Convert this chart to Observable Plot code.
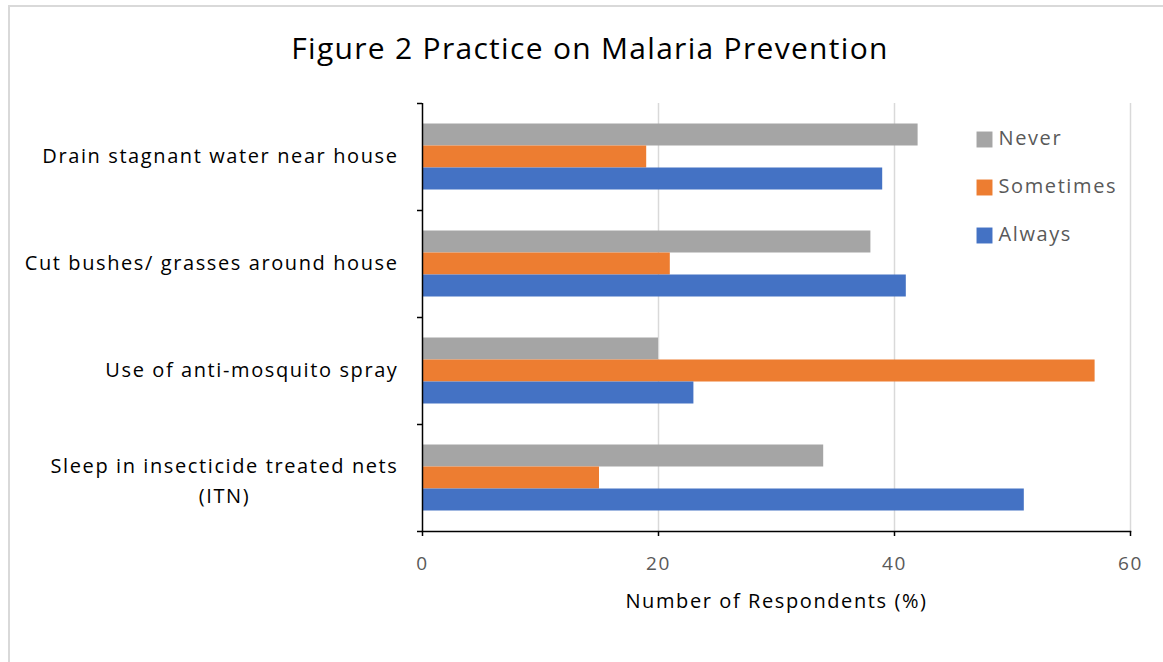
<!DOCTYPE html>
<html>
<head>
<meta charset="utf-8">
<script src="https://cdn.jsdelivr.net/npm/d3@7"></script>
<script src="https://cdn.jsdelivr.net/npm/@observablehq/plot@0.6"></script>
<style>
  html, body { margin: 0; padding: 0; background: #fff; }
  #wrap { position: relative; width: 1163px; height: 662px; overflow: hidden; font-family: "Open Sans", sans-serif; }
  #border { position: absolute; left: 8px; top: 5px; width: 1200px; height: 700px; border-left: 2px solid #d9d9d9; border-top: 2px solid #d9d9d9; }
  #title { position: absolute; left: 0; top: 27px; width: 1180px; text-align: center; font-size: 30px; letter-spacing: 1.3px; color: #000; }
  #chart { position: absolute; left: 0; top: 0; }
</style>
</head>
<body>
<div id="wrap">
  <div id="border"></div>
  <div id="chart"></div>
  <div id="title">Figure 2 Practice on Malaria Prevention</div>
</div>
<script>
const categories = [
  "Drain stagnant water near house",
  "Cut bushes/ grasses around house",
  "Use of anti-mosquito spray",
  "Sleep in insecticide treated nets\n(ITN)"
];
const series = ["Never", "Sometimes", "Always"];
const neverValues = [42, 38, 20, 34];
const sometimesValues = [19, 21, 57, 15];
const alwaysValues = [39, 41, 23, 51];
const seriesColors = ["#a5a5a5", "#ed7d31", "#4472c4"];
const xTicks = [0, 20, 40, 60];
const xLabel = "Number of Respondents (%)";

const valuesBySeries = [neverValues, sometimesValues, alwaysValues];
const data = [];
series.forEach((s, i) => categories.forEach((c, j) => data.push({series: s, category: c, value: valuesBySeries[i][j]})));

const W = 1163, H = 662;
const mt = 103, mb = 131, ml = 422, mr = 33;
const bw = (H - mt - mb) / categories.length;
const barH = bw * 0.2056;
const off = (bw - 3 * barH) / 2;

const font = "'Open Sans', sans-serif";

const marks = [
  Plot.gridX({ticks: [20, 40, 60], stroke: "#d9d9d9", strokeOpacity: 1, strokeWidth: 1.5}),
  ...series.map((s, i) => Plot.barX(data.filter(d => d.series === s), {
    x: "value", y: "category", fill: "series",
    insetTop: off + i * barH, insetBottom: bw - off - (i + 1) * barH
  })),
  Plot.ruleX([0], {stroke: "black", strokeWidth: 1.5}),
  Plot.frame({anchor: "bottom", stroke: "black", strokeWidth: 1.5}),
  Plot.ruleY(categories, {y: d => d, dy: -bw / 2, x1: 0, x2: 0, insetLeft: -5, stroke: "black", strokeWidth: 1.5}),
  Plot.ruleY([categories[categories.length - 1]], {y: d => d, dy: bw / 2, x1: 0, x2: 0, insetLeft: -5, stroke: "black", strokeWidth: 1.5}),
  Plot.axisX({ticks: xTicks, tickSize: 5, tickFormat: () => "", stroke: "black", strokeWidth: 1.5}),
  Plot.axisX({ticks: xTicks, tickSize: 0, tickPadding: 25, fontSize: 19, fill: "#595959", label: null}),
  Plot.axisY({tickSize: 0, tickPadding: 24, fontSize: 20, fill: "#000", label: null,
    tickFormat: d => d.includes("\n") ? "" : d}),
  Plot.text([categories[3]], {y: d => d, frameAnchor: "left", dx: -198, textAnchor: "middle", lineHeight: 1.5, fontSize: 20, fill: "#000"}),
  Plot.text([xLabel], {frameAnchor: "bottom", dy: 76, fontSize: 20, fill: "#000"}),
  ...series.map((s, i) => Plot.dot([s], {frameAnchor: "top-left", dx: 562, dy: 36 + 48 * i, fill: d => d, symbol: "square", r: 9})),
  ...series.map((s, i) => Plot.text([s], {frameAnchor: "top-left", dx: 576, dy: 35 + 48 * i, text: d => d, textAnchor: "start", lineAnchor: "middle", fontSize: 20, fill: "#595959"}))
];

const chart = Plot.plot({
  width: W, height: H,
  marginTop: mt, marginBottom: mb, marginLeft: ml, marginRight: mr,
  style: {fontFamily: font, background: "transparent", letterSpacing: "1.6px"},
  x: {domain: [0, 60], ticks: xTicks, label: null},
  y: {type: "band", domain: categories, padding: 0, label: null, axis: null},
  color: {domain: series, range: seriesColors},
  marks
});
document.getElementById("chart").append(chart);
</script>
</body>
</html>
